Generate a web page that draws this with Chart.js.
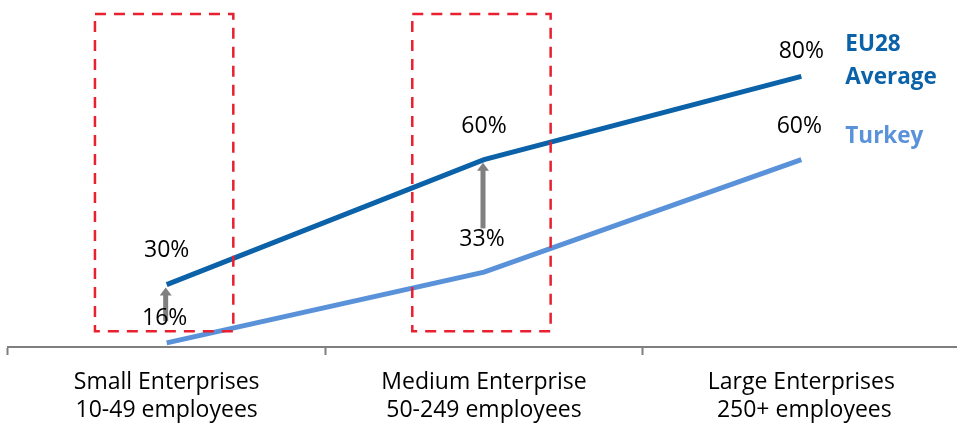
<!DOCTYPE html>
<html>
<head>
<meta charset="utf-8">
<script src="https://cdn.jsdelivr.net/npm/chart.js@4/dist/chart.umd.min.js"></script>
<style>
    html, body { margin: 0; padding: 0; background: #fff; overflow: hidden; }
    #wrap { width: 960px; height: 424px; }
</style>
</head>
<body>
<div id="wrap"><canvas id="chart" width="960" height="424"></canvas></div>
<script>
// Data
const categories = [
    ['Small Enterprises', '10-49 employees'],
    ['Medium Enterprise', '50-249 employees'],
    ['Large Enterprises', ' 250+ employees']
];
const eu28Values = [30, 60, 80];
const turkeyValues = [16, 33, 60];
const seriesNames = [['EU28', 'Average'], ['Turkey']];
const highlightedCategories = [0, 1];

const FONT = '"Open Sans", Lato, sans-serif';
const EU_COLOR = '#0B62A8';
const TR_COLOR = '#5A92DA';

// Draws boxes, arrows, value labels and series names on top of the lines
const annotationsPlugin = {
    id: 'annotations',
    afterDatasetsDraw(chart) {
        const ctx = chart.ctx;
        const x = chart.scales.x;
        const y = chart.scales.y;
        const step = x.getPixelForValue(1) - x.getPixelForValue(0);

        ctx.save();

        // Red dashed boxes
        ctx.strokeStyle = '#E8202F';
        ctx.lineWidth = 2.5;
        ctx.setLineDash([11, 8]);
        highlightedCategories.forEach(i => {
            const cx = x.getPixelForValue(i);
            const left = cx - step * 0.226;
            const right = cx + step * 0.21;
            const top = y.getPixelForValue(95);
            const bottom = y.getPixelForValue(18.8);
            ctx.strokeRect(left, top, right - left, bottom - top);
        });
        ctx.setLineDash([]);

        // Gray arrows from Turkey label up to EU28 point
        const arrowBase = [turkeyValues[0] + 5.2, turkeyValues[1] + 10.5];
        [0, 1].forEach(i => {
            const cx = x.getPixelForValue(i) - 1;
            const tip = y.getPixelForValue(eu28Values[i]) + 3;
            const base = y.getPixelForValue(arrowBase[i]);
            ctx.fillStyle = '#808080';
            ctx.fillRect(cx - 2.5, tip + 7, 5, base - tip - 7);
            ctx.beginPath();
            ctx.moveTo(cx, tip);
            ctx.lineTo(cx + 6, tip + 8);
            ctx.lineTo(cx - 6, tip + 8);
            ctx.closePath();
            ctx.fill();
        });

        // Value labels
        ctx.fillStyle = '#000';
        ctx.font = '23px ' + FONT;
        ctx.textAlign = 'center';
        ctx.textBaseline = 'middle';
        const euOffsets = [34, 33, 25];
        const trOffsets = [24, 33, 33];
        eu28Values.forEach((v, i) => {
            ctx.fillText(v + '%', x.getPixelForValue(i), y.getPixelForValue(v) - euOffsets[i]);
        });
        turkeyValues.forEach((v, i) => {
            ctx.fillText(v + '%', x.getPixelForValue(i) - 2, y.getPixelForValue(v) - trOffsets[i]);
        });

        // Series names at the right
        const lastX = x.getPixelForValue(2) + 44;
        ctx.textAlign = 'left';
        ctx.font = 'bold 22.5px ' + FONT;
        ctx.fillStyle = EU_COLOR;
        const euY = y.getPixelForValue(eu28Values[2]);
        ctx.fillText(seriesNames[0][0], lastX, euY - 32);
        ctx.fillText(seriesNames[0][1], lastX, euY + 1);
        ctx.fillStyle = TR_COLOR;
        ctx.fillText(seriesNames[1][0], lastX, y.getPixelForValue(turkeyValues[2]) - 23);

        ctx.restore();
    }
};

new Chart(document.getElementById('chart'), {
    type: 'line',
    data: {
        labels: categories,
        datasets: [
            {
                label: 'EU28 Average',
                data: eu28Values,
                borderColor: EU_COLOR,
                borderWidth: 5,
                pointRadius: 0,
                tension: 0
            },
            {
                label: 'Turkey',
                data: turkeyValues,
                borderColor: TR_COLOR,
                borderWidth: 5,
                pointRadius: 0,
                tension: 0
            }
        ]
    },
    options: {
        responsive: false,
        animation: false,
        layout: { padding: { left: 8, right: 0, top: 14, bottom: 0 } },
        plugins: {
            legend: { display: false },
            tooltip: { enabled: false }
        },
        scales: {
            x: {
                offset: true,
                afterFit: scale => { scale.height = 77; },
                grid: {
                    offset: true,
                    drawOnChartArea: false,
                    drawTicks: true,
                    tickLength: 8,
                    tickWidth: 2,
                    color: '#7F7F7F'
                },
                border: { color: '#7F7F7F', width: 2 },
                ticks: {
                    color: '#000',
                    padding: 13,
                    maxRotation: 0,
                    font: { family: FONT, size: 23, lineHeight: 28 / 23 }
                }
            },
            y: {
                display: false,
                min: 15,
                max: 95
            }
        }
    },
    plugins: [annotationsPlugin]
});
</script>
</body>
</html>
